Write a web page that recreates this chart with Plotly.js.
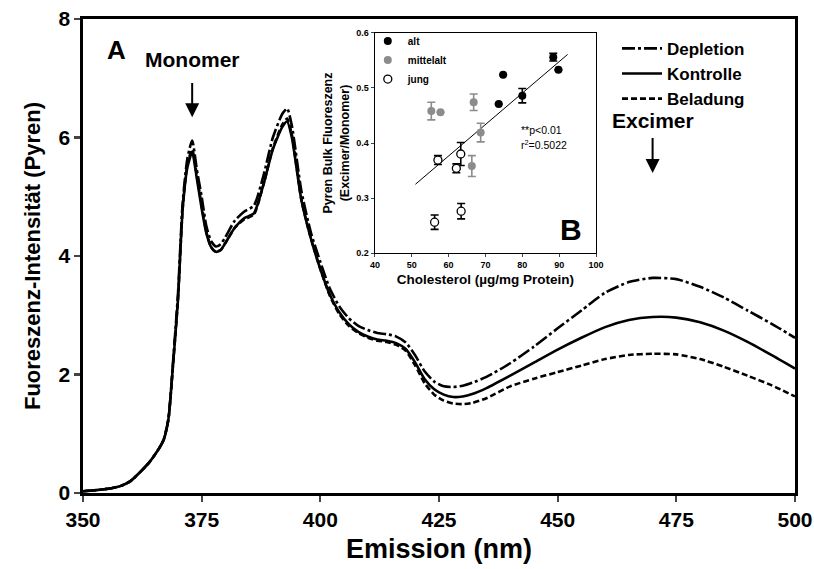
<!DOCTYPE html>
<html><head><meta charset="utf-8">
<script src="https://cdn.plot.ly/plotly-3.0.1.min.js"></script>
<style>html,body{margin:0;padding:0;background:#fff}#chart{width:814px;height:569px}</style>
</head><body><div id="chart"></div>
<script>
// ---- Main spectra ----
const wavelength = [350,353,356,358,360,362,364,366,367,368,369,370,371,372,373,374,375,376,377,378,379,380,382,384,386,388,390,392,393,394,396,398,400,402,404,406,408,410,412,414,416,418,420,422,424,426,428,430,432,435,440,445,450,455,460,465,470,475,480,485,490,495,500];
const depletion = [0.03,0.05,0.08,0.12,0.2,0.35,0.52,0.75,0.9,1.25,2.25,3.35,4.9,5.65,5.95,5.45,5.0,4.5,4.25,4.16,4.2,4.32,4.6,4.75,4.85,5.35,6.0,6.4,6.49,6.2,5.1,4.4,3.9,3.45,3.15,2.95,2.82,2.75,2.7,2.68,2.64,2.54,2.32,2.05,1.88,1.8,1.79,1.81,1.86,1.96,2.19,2.47,2.78,3.08,3.38,3.56,3.63,3.61,3.48,3.3,3.08,2.86,2.62];
const kontrolle = [0.03,0.05,0.08,0.12,0.2,0.35,0.52,0.75,0.9,1.25,2.2,3.25,4.8,5.5,5.75,5.3,4.8,4.38,4.15,4.07,4.1,4.22,4.48,4.64,4.72,5.2,5.8,6.18,6.27,6.0,4.95,4.3,3.78,3.35,3.05,2.85,2.72,2.64,2.59,2.57,2.53,2.43,2.2,1.92,1.75,1.66,1.62,1.63,1.67,1.77,1.98,2.2,2.42,2.62,2.8,2.92,2.97,2.96,2.88,2.74,2.55,2.33,2.1];
const beladung = [0.03,0.05,0.08,0.12,0.2,0.35,0.52,0.75,0.9,1.25,2.2,3.25,4.8,5.55,5.8,5.35,4.85,4.4,4.15,4.07,4.1,4.22,4.48,4.62,4.7,5.2,5.82,6.22,6.32,6.05,4.95,4.3,3.78,3.33,3.02,2.82,2.7,2.62,2.57,2.55,2.5,2.4,2.15,1.85,1.66,1.56,1.51,1.5,1.52,1.6,1.8,1.93,2.04,2.15,2.26,2.33,2.35,2.34,2.26,2.13,1.98,1.82,1.63];
const seriesNames = ['Depletion','Kontrolle','Beladung'];
const xTicks = [350,375,400,425,450,475,500];
const yTicks = [0,2,4,6,8];

// ---- Inset data ----
const altX = [88.4,89.8,74.8,73.6,80.0];
const altY = [0.556,0.533,0.524,0.471,0.486];
const altErr = [0.007,0,0,0,0.013];
const mittelX = [55.3,57.8,66.8,68.7,66.3];
const mittelY = [0.458,0.456,0.474,0.419,0.358];
const mittelErr = [0.016,0,0.015,0.017,0.019];
const jungX = [57.1,63.3,62.1,56.2,63.4];
const jungY = [0.369,0.380,0.354,0.256,0.276];
const jungErr = [0.008,0.021,0.008,0.013,0.014];
const regX = [51.0,92.3];
const regY = [0.325,0.561];
const groupNames = ['alt','mittelalt','jung'];
const insetXTicks = [40,50,60,70,80,90,100];
const insetYTicks = [0.2,0.3,0.4,0.5,0.6];

const FONT = 'Arial, "Liberation Sans", Helvetica, sans-serif';
const lw = 2.6;
const traces = [
  {x: wavelength, y: depletion, name: seriesNames[0], mode:'lines', line:{color:'#000', width:lw, dash:'13px,3px,3px,3px', shape:'spline', smoothing:0.6}, xaxis:'x', yaxis:'y'},
  {x: wavelength, y: kontrolle, name: seriesNames[1], mode:'lines', line:{color:'#000', width:lw, shape:'spline', smoothing:0.6}, xaxis:'x', yaxis:'y'},
  {x: wavelength, y: beladung, name: seriesNames[2], mode:'lines', line:{color:'#000', width:lw, dash:'6px,3px', shape:'spline', smoothing:0.6}, xaxis:'x', yaxis:'y'},
  {x: regX, y: regY, mode:'lines', line:{color:'#000', width:1}, xaxis:'x2', yaxis:'y2', showlegend:false, hoverinfo:'skip'},
  {x: altX, y: altY, name: groupNames[0], mode:'markers', marker:{color:'#000', size:8}, error_y:{type:'data', array:altErr, color:'#000', thickness:1.6, width:4}, xaxis:'x2', yaxis:'y2', legend:'legend2'},
  {x: mittelX, y: mittelY, name: groupNames[1], mode:'markers', marker:{color:'#8c8c8c', size:8}, error_y:{type:'data', array:mittelErr, color:'#8c8c8c', thickness:1.6, width:4}, xaxis:'x2', yaxis:'y2', legend:'legend2'},
  {x: jungX, y: jungY, name: groupNames[2], mode:'markers', marker:{color:'#fff', size:8, line:{color:'#000', width:1.3}}, error_y:{type:'data', array:jungErr, color:'#000', thickness:1.6, width:4}, xaxis:'x2', yaxis:'y2', legend:'legend2'}
];

const layout = {
  width:814, height:569,
  margin:{l:83, r:19, t:19, b:76},
  paper_bgcolor:'#fff', plot_bgcolor:'#fff',
  font:{family:FONT, color:'#000'},
  showlegend:true,
  xaxis:{range:[350,500], tickvals:xTicks, ticks:'outside', ticklen:6, tickwidth:2.2, showline:true, linewidth:2.6, linecolor:'#000', mirror:true, showgrid:false, zeroline:false,
    tickfont:{size:21, weight:'bold', family:FONT}, title:{text:'Emission (nm)', font:{size:27, weight:'bold', family:FONT}, standoff:10}},
  yaxis:{range:[0,8], tickvals:yTicks, ticks:'outside', ticklen:6, tickwidth:2.2, showline:true, linewidth:2.6, linecolor:'#000', mirror:true, showgrid:false, zeroline:false,
    tickfont:{size:21, weight:'bold', family:FONT}, title:{text:'Fuoreszenz-Intensität (Pyren)', font:{size:22, weight:'bold', family:FONT}, standoff:12}},
  xaxis2:{domain:[0.410,0.7205], anchor:'y2', range:[40,100], tickvals:insetXTicks, ticks:'outside', ticklen:3, tickwidth:1, showline:true, linewidth:1.3, linecolor:'#000', mirror:true, showgrid:false, zeroline:false,
    tickfont:{size:9, weight:'bold', family:FONT}, title:{text:'Cholesterol (µg/mg Protein)', font:{size:13.5, weight:'bold', family:FONT}, standoff:5}},
  yaxis2:{domain:[0.5063,0.9705], anchor:'x2', range:[0.2,0.6], tickvals:insetYTicks, tickformat:'.1f', ticks:'outside', ticklen:3, tickwidth:1, showline:true, linewidth:1.3, linecolor:'#000', mirror:true, showgrid:false, zeroline:false,
    tickfont:{size:9, weight:'bold', family:FONT}, title:{text:'Pyren Bulk Fluoreszenz<br>(Excimer/Monomer)', font:{size:12.5, weight:'bold', family:FONT}, standoff:4}},
  legend:{x:0.75, y:0.975, xanchor:'left', yanchor:'top', bgcolor:'rgba(0,0,0,0)', font:{size:17, weight:'bold', family:FONT}, tracegroupgap:0, itemwidth:40},
  legend2:{x:0.400, y:0.984, xanchor:'left', yanchor:'top', bgcolor:'rgba(0,0,0,0)', font:{size:10, weight:'bold', family:FONT}, tracegroupgap:0, itemwidth:30},
  annotations:[
    {xref:'paper', yref:'paper', x:0.047, y:0.935, text:'A', showarrow:false, font:{size:26, weight:'bold', family:FONT}, xanchor:'center', yanchor:'middle'},
    {xref:'x', yref:'y', x:373, y:6.34, ax:373, ay:7.31, axref:'x', ayref:'y', text:'Monomer', showarrow:true, arrowhead:2, arrowsize:1.4, arrowwidth:2, arrowcolor:'#000', startstandoff:10, font:{size:21, weight:'bold', family:FONT}},
    {xref:'x', yref:'y', x:470, y:5.4, ax:470, ay:6.28, axref:'x', ayref:'y', text:'Excimer', showarrow:true, arrowhead:2, arrowsize:1.4, arrowwidth:2, arrowcolor:'#000', startstandoff:4, font:{size:21, weight:'bold', family:FONT}},
    {xref:'x2', yref:'y2', x:79.2, y:0.424, text:'**p<0.01', showarrow:false, font:{size:10.5, family:FONT}, xanchor:'left', yanchor:'middle'},
    {xref:'x2', yref:'y2', x:79.2, y:0.397, text:'r<sup>2</sup>=0.5022', showarrow:false, font:{size:10.5, family:FONT}, xanchor:'left', yanchor:'middle'},
    {xref:'x2', yref:'y2', x:93.2, y:0.243, text:'B', showarrow:false, font:{size:30, weight:'bold', family:FONT}, xanchor:'center', yanchor:'middle'}
  ]
};
Plotly.newPlot('chart', traces, layout, {displayModeBar:false, staticPlot:true});
</script></body></html>
